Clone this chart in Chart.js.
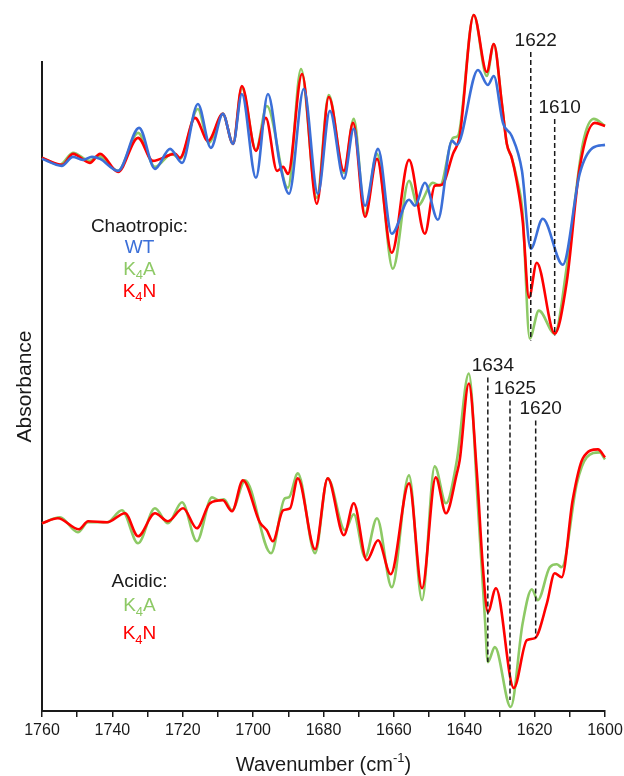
<!DOCTYPE html>
<html>
<head>
<meta charset="utf-8">
<script src="https://cdn.jsdelivr.net/npm/chart.js@4.4.0/dist/chart.umd.min.js"></script>
<style>
  html, body { margin: 0; padding: 0; background: #fff; }
  #wrap { width: 624px; height: 776px; position: relative; }
</style>
</head>
<body>
<div id="wrap"><canvas id="spectra"></canvas></div>
<script>
// Chaotropic condition (upper traces), wavenumber / absorbance (arb. units)
const chaoWtWn = [1760, 1754.4, 1751.2, 1748.4, 1745.8, 1743.5, 1738.4, 1732.4, 1727.9, 1723.6, 1720.2, 1715.7, 1712.0, 1708.6, 1705.7, 1703.2, 1699.2, 1695.8, 1692.4, 1689.8, 1685.6, 1681.6, 1678.2, 1674.2, 1671.4, 1668.2, 1664.5, 1660.6, 1655.7, 1654.0, 1651.2, 1647.5, 1643.5, 1642.1, 1636.1, 1633.3, 1631.6, 1629.0, 1626.5, 1623.6, 1621.1, 1617.7, 1612.0, 1607.2, 1603.5, 1600];
const chaoWtAbs = [55.3, 54.6, 55.5, 55.2, 55.5, 55.3, 54.1, 58.4, 54.3, 56.3, 54.9, 60.8, 56.4, 59.8, 56.8, 61.8, 53.4, 61.8, 54.8, 51.8, 62.3, 51.8, 60.1, 53.3, 58.3, 50.6, 56.3, 47.8, 51.2, 50.6, 52.9, 49.2, 57.1, 56.7, 64.2, 62.7, 63.6, 58.9, 57.6, 54.1, 46.3, 49.3, 44.7, 53.8, 56.4, 56.7];

const chaoK4aWn = [1760, 1754.9, 1751.2, 1746.4, 1744.1, 1738.4, 1732.7, 1727.9, 1723.1, 1720.8, 1715.7, 1712.6, 1708.6, 1705.7, 1703.2, 1699.2, 1696.1, 1690.1, 1686.4, 1681.9, 1678.5, 1674.2, 1671.4, 1668.2, 1664.8, 1660.3, 1655.7, 1653.2, 1648.9, 1646.9, 1643.2, 1641.8, 1637.3, 1633.6, 1631.6, 1629.3, 1627.9, 1626.5, 1625.1, 1623.4, 1621.4, 1618.8, 1614.3, 1610.9, 1606.3, 1603.2, 1600];
const chaoK4aAbs = [55.4, 54.7, 55.9, 55.1, 55.6, 54.1, 57.9, 54.5, 55.8, 55.3, 60.3, 56.9, 59.8, 56.8, 62.4, 56.2, 60.6, 52.4, 64.3, 51.4, 61.7, 53.9, 59.3, 49.8, 55.8, 44.3, 53.1, 50.6, 52.9, 52.6, 57.4, 57.6, 69.7, 63.6, 66.8, 60.8, 56.8, 55.4, 53.4, 49.8, 37.3, 40.1, 37.8, 44.4, 56.8, 59.3, 58.6];

const chaoK4nWn = [1760, 1754.3, 1751.2, 1746.4, 1743.5, 1738.4, 1732.7, 1728.5, 1722.2, 1720.8, 1716.5, 1712.8, 1708.6, 1705.7, 1703.2, 1699.2, 1696.4, 1693.2, 1691.5, 1690.1, 1686.1, 1681.9, 1678.5, 1674.2, 1671.6, 1668.2, 1664.8, 1660.6, 1655.7, 1651.2, 1648.4, 1646.4, 1643.2, 1641.3, 1637.3, 1633.6, 1631.6, 1629.3, 1627.9, 1626.5, 1625.1, 1623.4, 1621.6, 1619.4, 1614.3, 1610.9, 1607.2, 1602.9, 1600];
const chaoK4nAbs = [55.4, 54.7, 55.8, 54.9, 55.8, 54.0, 57.4, 55.1, 55.8, 55.4, 59.4, 57.1, 59.8, 56.8, 62.6, 56.1, 59.4, 54.1, 54.5, 53.8, 63.8, 50.8, 61.5, 54.1, 58.9, 49.5, 55.3, 45.9, 55.2, 47.8, 52.6, 52.7, 55.8, 57.6, 69.7, 64.0, 66.8, 60.8, 56.8, 55.4, 53.1, 49.1, 41.4, 44.9, 37.8, 42.9, 54.4, 58.9, 58.6];

// Acidic condition (lower traces)
const acidK4aWn = [1760, 1754.9, 1749.8, 1746.9, 1741.5, 1737.3, 1732.7, 1727.9, 1724.2, 1720.2, 1716.0, 1711.7, 1709.7, 1708.3, 1706.0, 1702.3, 1694.9, 1691.0, 1689.8, 1687.3, 1682.4, 1678.8, 1673.9, 1671.4, 1668.2, 1664.8, 1660.6, 1655.7, 1652.0, 1648.4, 1645.2, 1642.1, 1638.7, 1636.1, 1634.1, 1633.3, 1631.3, 1626.8, 1623.4, 1620.8, 1619.1, 1615.7, 1613.7, 1612.3, 1608.0, 1605.2, 1601.5, 1600];
const acidK4aAbs = [18.8, 19.4, 17.9, 18.9, 18.9, 20.1, 16.8, 20.3, 18.8, 20.9, 17.0, 21.4, 21.1, 21.2, 20.1, 23.1, 15.8, 21.3, 21.4, 23.8, 15.8, 23.3, 18.1, 19.7, 15.4, 19.3, 12.4, 23.6, 11.1, 24.5, 20.8, 25.1, 33.8, 20.4, 9.1, 4.9, 6.4, 0.4, 8.8, 12.2, 11.1, 14.4, 14.7, 14.4, 22.8, 25.4, 25.9, 25.2];

const acidK4nWn = [1760, 1755.5, 1749.5, 1746.9, 1741.5, 1736.4, 1732.7, 1727.9, 1724.2, 1719.9, 1716.0, 1712.3, 1708.6, 1706.0, 1702.9, 1698.1, 1696.1, 1694.4, 1691.5, 1689.5, 1687.3, 1682.4, 1678.8, 1674.2, 1671.4, 1667.7, 1664.5, 1660.9, 1655.7, 1652.0, 1648.1, 1645.2, 1642.1, 1641.3, 1638.7, 1636.4, 1634.7, 1633.3, 1631.0, 1625.9, 1622.2, 1619.9, 1616.5, 1614.3, 1612.3, 1609.2, 1606.3, 1602.0, 1600];
const acidK4nAbs = [18.8, 19.3, 18.2, 19.0, 18.9, 19.8, 17.5, 19.8, 19.0, 20.3, 18.3, 20.8, 21.1, 20.0, 23.1, 18.9, 18.1, 17.0, 20.1, 20.3, 23.3, 16.2, 23.3, 17.6, 20.8, 15.1, 17.1, 13.7, 22.8, 12.3, 23.4, 19.8, 23.8, 25.1, 32.8, 23.8, 14.4, 9.9, 12.3, 2.3, 7.1, 7.3, 10.8, 13.8, 13.4, 21.1, 25.3, 26.2, 25.4];

// Marked band positions (dashed lines) and their vertical extent
const chaoMarkLabels = ['1622', '1610'];
const chaoMarkWn = [1621.1, 1614.3];
const chaoMarkTop = [66.0, 59.3];
const chaoMarkBottom = [37.1, 37.6];

const acidMarkLabels = ['1634', '1625', '1620'];
const acidMarkWn = [1633.3, 1627.0, 1619.7];
const acidMarkTop = [33.4, 31.1, 29.1];
const acidMarkBottom = [4.9, 1.1, 7.3];

// In-plot legends
const chaoLegend = ['Chaotropic:', 'WT', 'K4A', 'K4N'];
const chaoLegendAbs = [48.5, 46.4, 44.2, 42.0];
const acidLegend = ['Acidic:', 'K4A', 'K4N'];
const acidLegendAbs = [12.9, 10.5, 7.7];
const legendWn = 1732.3;

const xTickLabels = [1760, 1740, 1720, 1700, 1680, 1660, 1640, 1620, 1600];

const BLUE = '#3b6fd8';
const GREEN = '#8dc965';
const RED = '#ff0000';
const INK = '#1a1a1a';
const FONT = '"Liberation Sans", Arial, sans-serif';

function toPoints(wn, abs) {
  return wn.map((w, i) => ({ x: w, y: abs[i] }));
}

function lineSet(label, wn, abs, color, order) {
  return {
    label: label,
    data: toPoints(wn, abs),
    borderColor: color,
    borderWidth: 2.6,
    pointRadius: 0,
    fill: false,
    cubicInterpolationMode: 'monotone',
    clip: false,
    order: order
  };
}

// draws text where digits are set as subscripts (K4A -> K with subscript 4)
function drawSubText(ctx, text, cx, cy, color) {
  const big = '19px ' + FONT;
  const small = '13px ' + FONT;
  const runs = [...text].map(ch => ({ ch: ch, sub: /\d/.test(ch) }));
  let total = 0;
  runs.forEach(r => {
    ctx.font = r.sub ? small : big;
    r.w = ctx.measureText(r.ch).width;
    total += r.w;
  });
  let xx = cx - total / 2;
  ctx.fillStyle = color;
  ctx.textAlign = 'left';
  ctx.textBaseline = 'middle';
  runs.forEach(r => {
    ctx.font = r.sub ? small : big;
    ctx.fillText(r.ch, xx, cy + (r.sub ? 6 : 0));
    xx += r.w;
  });
}

const overlay = {
  id: 'overlay',
  afterDatasetsDraw(chart) {
    const { ctx, scales } = chart;
    const x = scales.x, y = scales.y;
    ctx.save();

    const drawMarkers = (labels, wn, top, bottom) => {
      labels.forEach((lab, i) => {
        const px = x.getPixelForValue(wn[i]);
        const y0 = y.getPixelForValue(top[i]);
        const y1 = y.getPixelForValue(bottom[i]);
        ctx.setLineDash([5, 3]);
        ctx.lineWidth = 1.5;
        ctx.strokeStyle = INK;
        ctx.beginPath();
        ctx.moveTo(px, y0);
        ctx.lineTo(px, y1);
        ctx.stroke();
        ctx.setLineDash([]);
        ctx.fillStyle = INK;
        ctx.font = '19px ' + FONT;
        ctx.textAlign = 'center';
        ctx.textBaseline = 'bottom';
        ctx.fillText(lab, px + 5, y0 - 2);
      });
    };
    drawMarkers(chaoMarkLabels, chaoMarkWn, chaoMarkTop, chaoMarkBottom);
    drawMarkers(acidMarkLabels, acidMarkWn, acidMarkTop, acidMarkBottom);

    const lx = x.getPixelForValue(legendWn);
    const chaoColors = [INK, BLUE, GREEN, RED];
    chaoLegend.forEach((t, i) => drawSubText(ctx, t, lx, y.getPixelForValue(chaoLegendAbs[i]), chaoColors[i]));
    const acidColors = [INK, GREEN, RED];
    acidLegend.forEach((t, i) => drawSubText(ctx, t, lx, y.getPixelForValue(acidLegendAbs[i]), acidColors[i]));

    // x axis title with superscript
    const tcx = (chart.chartArea.left + chart.chartArea.right) / 2;
    const tcy = x.bottom - 11;
    const main = 'Wavenumber (cm';
    const sup = '-1';
    const end = ')';
    ctx.font = '20px ' + FONT;
    const w1 = ctx.measureText(main).width;
    const w3 = ctx.measureText(end).width;
    ctx.font = '13px ' + FONT;
    const w2 = ctx.measureText(sup).width;
    let sx = tcx - (w1 + w2 + w3) / 2;
    ctx.fillStyle = INK;
    ctx.textAlign = 'left';
    ctx.textBaseline = 'middle';
    ctx.font = '20px ' + FONT;
    ctx.fillText(main, sx, tcy);
    sx += w1;
    ctx.font = '13px ' + FONT;
    ctx.fillText(sup, sx, tcy - 7);
    sx += w2;
    ctx.font = '20px ' + FONT;
    ctx.fillText(end, sx, tcy);

    ctx.restore();
  }
};

const ctx = document.getElementById('spectra').getContext('2d');

new Chart(ctx, {
  type: 'line',
  data: {
    datasets: [
      lineSet('Chaotropic WT', chaoWtWn, chaoWtAbs, BLUE, 0),
      lineSet('Chaotropic K4N', chaoK4nWn, chaoK4nAbs, RED, 1),
      lineSet('Chaotropic K4A', chaoK4aWn, chaoK4aAbs, GREEN, 2),
      lineSet('Acidic K4N', acidK4nWn, acidK4nAbs, RED, 1),
      lineSet('Acidic K4A', acidK4aWn, acidK4aAbs, GREEN, 2)
    ]
  },
  options: {
    responsive: true,
    maintainAspectRatio: false,
    animation: false,
    devicePixelRatio: 1,
    layout: { padding: { top: 62, right: 19, left: 0, bottom: 0 } },
    plugins: {
      legend: { display: false },
      tooltip: { enabled: false }
    },
    scales: {
      x: {
        type: 'linear',
        reverse: true,
        min: 1600,
        max: 1760,
        border: { display: true, color: INK, width: 2 },
        grid: { display: true, drawOnChartArea: false, drawTicks: true, tickLength: 6, color: INK, lineWidth: 1.5 },
        ticks: {
          stepSize: 10,
          autoSkip: false,
          maxRotation: 0,
          minRotation: 0,
          padding: 4,
          color: INK,
          font: { family: FONT, size: 16 },
          callback: v => xTickLabels.includes(v) ? String(v) : ''
        },
        afterFit: scale => {
          scale.height = 65;
          // let the layout padding decide the side margins
          scale.paddingLeft = 0;
          scale.paddingRight = 0;
        }
      },
      y: {
        type: 'linear',
        min: 0,
        max: 65,
        border: { display: true, color: INK, width: 2 },
        grid: { display: false },
        ticks: { display: false },
        title: {
          display: true,
          text: 'Absorbance',
          color: INK,
          font: { family: FONT, size: 21 },
          padding: { top: 13, bottom: 0 }
        },
        afterFit: scale => { scale.width = 42; }
      }
    }
  },
  plugins: [overlay]
});
</script>
</body>
</html>
